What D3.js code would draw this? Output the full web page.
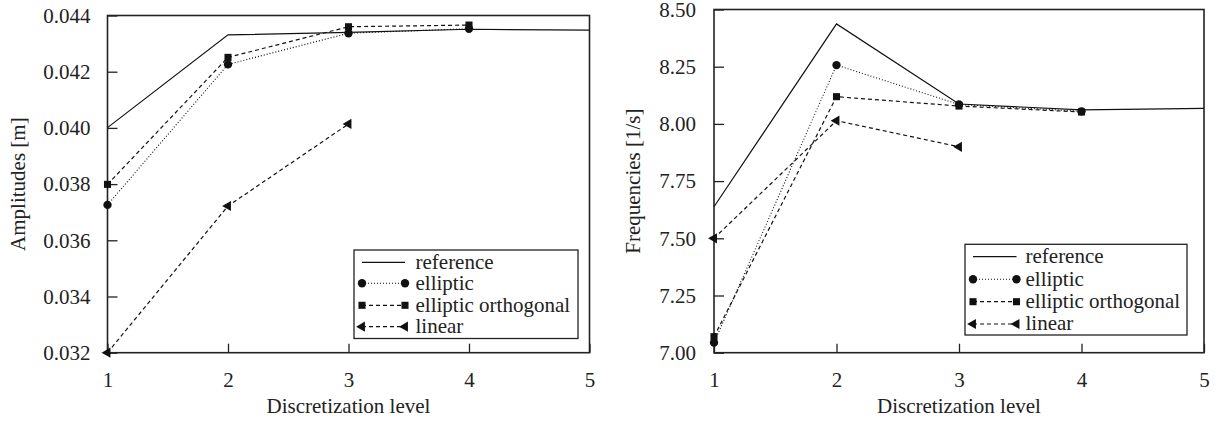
<!DOCTYPE html>
<html><head><meta charset="utf-8">
<script src="https://cdn.jsdelivr.net/npm/d3@7"></script>
<style>
body{margin:0;background:#fff;}
</style></head>
<body><svg id="c" width="1222" height="423"></svg>
<script>
const levels = [1, 2, 3, 4, 5];
const xTicks = [1, 2, 3, 4, 5];
const ampTicks = [0.032, 0.034, 0.036, 0.038, 0.040, 0.042, 0.044];
const freqTicks = [7.00, 7.25, 7.50, 7.75, 8.00, 8.25, 8.50];

const ampReference = [0.04001, 0.04331, 0.04340, 0.04351, 0.04348];
const ampElliptic = [0.03726, 0.04226, 0.04337, 0.04353];
const ampEllipticOrth = [0.03799, 0.04251, 0.04360, 0.04366];
const ampLinear = [0.0320, 0.03722, 0.04014];

const freqReference = [7.638, 8.437, 8.087, 8.061, 8.068];
const freqElliptic = [7.044, 8.257, 8.085, 8.055];
const freqEllipticOrth = [7.070, 8.119, 8.078, 8.052];
const freqLinear = [7.50, 8.014, 7.90];

const seriesNames = ["reference", "elliptic", "elliptic orthogonal", "linear"];

const FONT = '"Liberation Serif", "Times New Roman", "DejaVu Serif", serif';
const svg = d3.select("#c").attr("font-family", FONT);
const styles = {
  "reference": {dash: null, w: 1.2, marker: null},
  "elliptic": {dash: "1,2", w: 1.1, marker: "circle"},
  "elliptic orthogonal": {dash: "4,3", w: 1.2, marker: "square"},
  "linear": {dash: "4,3", w: 1.2, marker: "triangle"}
};
const symbolFor = {
  circle: d3.symbol().type(d3.symbolCircle).size(55),
  square: d3.symbol().type(d3.symbolSquare).size(50),
  triangle: d3.symbol().type(d3.symbolTriangle).size(45)
};

function drawMarker(g, type, x, y) {
  return g.append("path").attr("d", symbolFor[type]()).attr("fill", "#111")
    .attr("transform", `translate(${x},${y})` + (type === "triangle" ? " rotate(-90)" : ""));
}

function panel(cfg) {
  const g = svg.append("g");
  const x = d3.scaleLinear().domain([1, 5]).range(cfg.xr);
  const y = d3.scaleLinear().domain(cfg.yd).range(cfg.yr);

  const xa = g.append("g").attr("transform", `translate(0,${cfg.yr[0]})`)
    .call(d3.axisBottom(x).tickValues(xTicks).tickFormat(d3.format("d"))
      .tickSizeInner(-9).tickSizeOuter(0).tickPadding(19));
  const ya = g.append("g").attr("transform", `translate(${cfg.xr[0]},0)`)
    .call(d3.axisLeft(y).tickValues(cfg.yt).tickFormat(d3.format(cfg.fmt))
      .tickSizeInner(-10).tickSizeOuter(0).tickPadding(cfg.pad));
  [xa, ya].forEach(a => {
    a.attr("font-family", FONT).attr("font-size", 21);
    a.select(".domain").remove();
    a.selectAll("line").attr("stroke", "#222").attr("stroke-width", 1.3);
    a.selectAll("text").attr("fill", "#222");
  });

  g.append("rect").attr("x", cfg.xr[0]).attr("y", cfg.yr[1])
    .attr("width", cfg.xr[1] - cfg.xr[0]).attr("height", cfg.yr[0] - cfg.yr[1])
    .attr("fill", "none").attr("stroke", "#222").attr("stroke-width", 1.6);

  const data = cfg.data;
  const line = d3.line().x((d, i) => x(levels[i])).y(d => y(d));
  seriesNames.forEach((name, k) => {
    const s = styles[name];
    g.append("path").datum(data[k]).attr("d", line).attr("fill", "none")
      .attr("stroke", "#111").attr("stroke-width", s.w)
      .attr("stroke-dasharray", s.dash);
  });
  seriesNames.forEach((name, k) => {
    const s = styles[name];
    if (!s.marker) return;
    data[k].forEach((v, i) => drawMarker(g, s.marker, x(levels[i]), y(v)));
  });

  g.append("text").attr("x", (cfg.xr[0] + cfg.xr[1]) / 2).attr("y", 413)
    .attr("text-anchor", "middle").attr("font-size", 21).attr("fill", "#222")
    .attr("font-family", FONT).text("Discretization level");
  g.append("text").attr("transform", `translate(${cfg.ytx},${(cfg.yr[0] + cfg.yr[1]) / 2}) rotate(-90)`)
    .attr("text-anchor", "middle").attr("dy", "0.35em").attr("font-size", 21).attr("fill", "#222")
    .attr("font-family", FONT).text(cfg.ytitle);

  const L = cfg.leg;
  g.append("rect").attr("x", L.x0).attr("y", L.y0).attr("width", L.x1 - L.x0)
    .attr("height", L.y1 - L.y0).attr("fill", "#fff").attr("stroke", "#222").attr("stroke-width", 1.3);
  seriesNames.forEach((name, k) => {
    const s = styles[name];
    const yy = L.rows[k];
    g.append("line").attr("x1", L.s0).attr("x2", L.s1).attr("y1", yy).attr("y2", yy)
      .attr("stroke", "#111").attr("stroke-width", s.w).attr("stroke-dasharray", s.dash);
    if (s.marker) { drawMarker(g, s.marker, L.s0, yy); drawMarker(g, s.marker, L.s1, yy); }
    g.append("text").attr("x", L.tx).attr("y", yy).attr("dy", "0.3em")
      .attr("font-size", 21).attr("fill", "#222").attr("font-family", FONT).text(name);
  });
}

panel({
  xr: [107.5, 589.5], yd: [0.032, 0.044], yr: [352.7, 15.5], yt: ampTicks, fmt: ".3f", pad: 17,
  data: [ampReference, ampElliptic, ampEllipticOrth, ampLinear],
  ytitle: "Amplitudes [m]", ytx: 18,
  leg: {x0: 354, x1: 578, y0: 250, y1: 338.5, rows: [262.3, 283.3, 305.3, 326.7], s0: 362, s1: 405, tx: 415.5}
});
panel({
  xr: [714, 1204], yd: [7.0, 8.5], yr: [352.7, 9.5], yt: freqTicks, fmt: ".2f", pad: 18,
  data: [freqReference, freqElliptic, freqEllipticOrth, freqLinear],
  ytitle: "Frequencies [1/s]", ytx: 633,
  leg: {x0: 965, x1: 1187, y0: 244.3, y1: 335, rows: [256.7, 279.3, 301.7, 324], s0: 973, s1: 1016.5, tx: 1025.5}
});
</script></body></html>
